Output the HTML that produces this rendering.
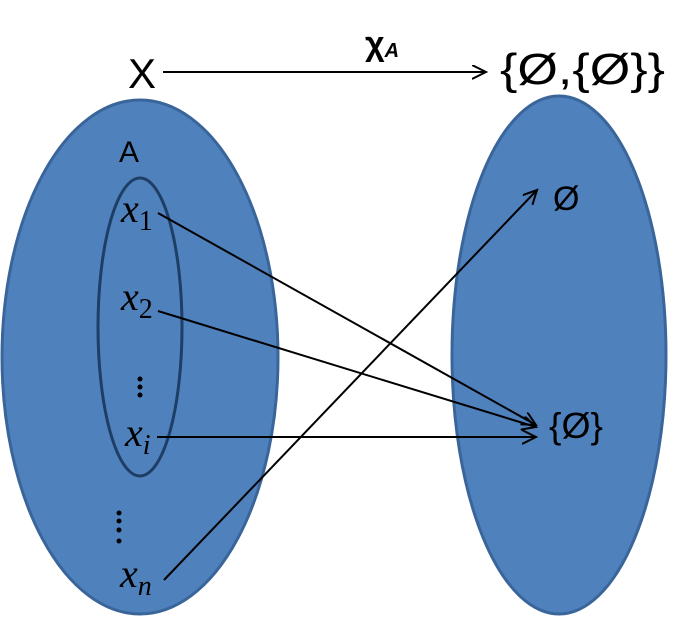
<!DOCTYPE html>
<html><head><style>body{margin:0;background:#fff}</style></head><body>
<svg width="685" height="624" xmlns="http://www.w3.org/2000/svg">
<defs><marker id="a" markerWidth="20" markerHeight="20" refX="14" refY="7" orient="auto" markerUnits="userSpaceOnUse"><path d="M0,0 L14,7 L0,14" fill="none" stroke="#000" stroke-width="2"/></marker></defs>
<ellipse cx="140" cy="357" rx="138" ry="257" fill="#4F81BD" stroke="#3A659A" stroke-width="3"/>
<ellipse cx="559" cy="355" rx="107" ry="259" fill="#4F81BD" stroke="#3A659A" stroke-width="3"/>
<ellipse cx="140" cy="327" rx="42" ry="149" fill="none" stroke="#1F3E66" stroke-width="3"/>
<g font-family="Liberation Sans, sans-serif" fill="#000">
<text x="128" y="88" font-size="42">X</text>
<text x="500" y="84" font-size="44" font-weight="normal" textLength="165" lengthAdjust="spacingAndGlyphs">{Ø,{Ø}}</text>
<text x="119" y="162" font-size="30">A</text>
<text x="553" y="210" font-size="34">Ø</text>
<text x="549" y="438" font-size="36" textLength="54" lengthAdjust="spacingAndGlyphs">{Ø}</text>
<text x="365" y="55" font-size="34" font-weight="bold">χ<tspan font-size="20" font-style="italic" dy="2">A</tspan></text>
</g>
<g font-family="Liberation Serif, serif" font-style="italic" fill="#000" font-size="40">
<text x="121" y="222">x<tspan font-style="normal" font-size="28" dy="8">1</tspan></text>
<text x="121" y="310">x<tspan font-style="normal" font-size="28" dy="8">2</tspan></text>
<text x="125" y="446">x<tspan font-size="28" dy="8">i</tspan></text>
<text x="120" y="587">x<tspan font-size="28" dy="8">n</tspan></text>
</g>
<g fill="#000"><circle cx="140" cy="379" r="2.5"/><circle cx="140" cy="387" r="2.5"/><circle cx="140" cy="395" r="2.5"/>
<circle cx="119" cy="513" r="2.5"/><circle cx="119" cy="521" r="2.5"/><circle cx="119" cy="530" r="2.5"/><circle cx="119" cy="541" r="2.5"/></g>
<g stroke="#000" stroke-width="2" fill="none" marker-end="url(#a)">
<line x1="163" y1="72" x2="486" y2="72"/>
<line x1="158" y1="213" x2="536" y2="425"/>
<line x1="158" y1="311" x2="536" y2="427"/>
<line x1="157" y1="437" x2="536" y2="437"/>
<line x1="164" y1="580" x2="537" y2="190"/>
</g>
</svg>
</body></html>
